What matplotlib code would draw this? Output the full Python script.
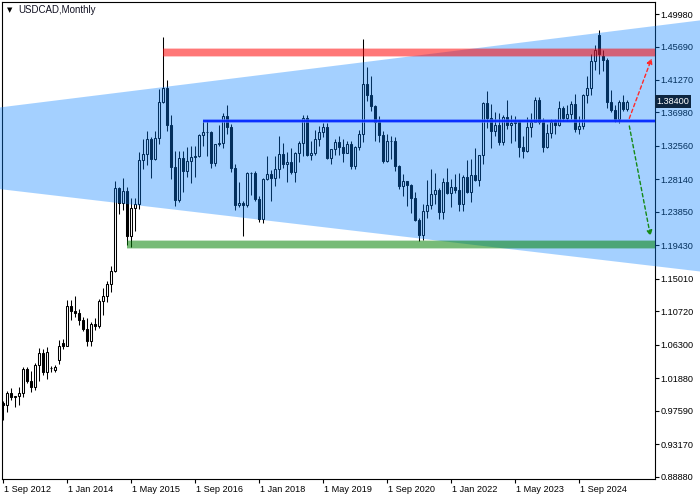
import matplotlib
matplotlib.use("Agg")
import matplotlib.pyplot as plt
import matplotlib.transforms as mtransforms
import numpy as np

# USDCAD monthly candles, Sep 2012 .. Sep 2025 (one bar per month)
opens = [0.9865, 0.9832, 0.9989, 0.9936, 0.9950, 0.9994, 1.0316, 1.0156, 1.0078, 1.0363,
         1.0516, 1.0271, 1.0322, 1.0300, 1.0430, 1.0655, 1.0620, 1.1138, 1.1075, 1.1053,
         1.0963, 1.0841, 1.0675, 1.0907, 1.0874, 1.1203, 1.1272, 1.1434, 1.1600, 1.2700,
         1.2505, 1.2665, 1.2065, 1.2438, 1.2495, 1.3072, 1.3145, 1.3350, 1.3080, 1.3360,
         1.3837, 1.4019, 1.3530, 1.2980, 1.2545, 1.3098, 1.2930, 1.3056, 1.3114, 1.3120,
         1.3407, 1.3435, 1.3438, 1.3030, 1.3280, 1.3300, 1.3657, 1.3507, 1.2968, 1.2470,
         1.2502, 1.2478, 1.2898, 1.2900, 1.2560, 1.2297, 1.2824, 1.2892, 1.2838, 1.2953,
         1.3150, 1.3016, 1.3045, 1.2914, 1.3164, 1.3292, 1.3630, 1.3135, 1.3160, 1.3350,
         1.3440, 1.3510, 1.3092, 1.3210, 1.3305, 1.3245, 1.3165, 1.3280, 1.2985, 1.3237,
         1.3410, 1.4074, 1.3923, 1.3783, 1.3570, 1.3395, 1.3055, 1.3315, 1.3320, 1.2994,
         1.2730, 1.2790, 1.2740, 1.2566, 1.2284, 1.2076, 1.2395, 1.2475, 1.2616, 1.2671,
         1.2388, 1.2774, 1.2640, 1.2717, 1.2670, 1.2496, 1.2850, 1.2648, 1.2873, 1.2806,
         1.3135, 1.3825, 1.3621, 1.3452, 1.3535, 1.3311, 1.3638, 1.3532, 1.3554, 1.3578,
         1.3243, 1.3185, 1.3512, 1.3577, 1.3867, 1.3569, 1.3245, 1.3425, 1.3570, 1.3538,
         1.3755, 1.3625, 1.3677, 1.3810, 1.3485, 1.3526, 1.3928, 1.4015, 1.4380, 1.4720,
         1.4445, 1.4385, 1.3830, 1.3730, 1.3607, 1.3840, 1.3740]
highs = [0.9885, 1.0015, 1.0061, 0.9958, 1.0078, 1.0339, 1.0332, 1.0279, 1.0387, 1.0590,
         1.0575, 1.0607, 1.0347, 1.0360, 1.0690, 1.0710, 1.1224, 1.1224, 1.1279, 1.1100,
         1.0996, 1.0986, 1.0929, 1.0985, 1.1237, 1.1386, 1.1467, 1.1673, 1.2799, 1.2720,
         1.2835, 1.2710, 1.2563, 1.2563, 1.3172, 1.3353, 1.3457, 1.3372, 1.3460, 1.4003,
         1.4690, 1.4133, 1.3663, 1.3194, 1.3190, 1.3187, 1.3242, 1.3258, 1.3249, 1.3410,
         1.3588, 1.3598, 1.3455, 1.3286, 1.3535, 1.3687, 1.3793, 1.3540, 1.3012, 1.2778,
         1.2526, 1.2917, 1.2917, 1.2920, 1.2590, 1.2833, 1.3125, 1.2945, 1.3125, 1.3386,
         1.3291, 1.3171, 1.3226, 1.3172, 1.3325, 1.3665, 1.3664, 1.3318, 1.3467, 1.3522,
         1.3565, 1.3563, 1.3221, 1.3346, 1.3383, 1.3348, 1.3328, 1.3321, 1.3249, 1.3467,
         1.4667, 1.4300, 1.4174, 1.3802, 1.3647, 1.3456, 1.3419, 1.3390, 1.3370, 1.3000,
         1.2880, 1.2799, 1.2750, 1.2650, 1.2300, 1.2487, 1.2807, 1.2949, 1.2896, 1.2700,
         1.2838, 1.2964, 1.2814, 1.2880, 1.2901, 1.2878, 1.3076, 1.3079, 1.3223, 1.3138,
         1.3838, 1.3977, 1.3808, 1.3705, 1.3685, 1.3666, 1.3862, 1.3667, 1.3655, 1.3585,
         1.3387, 1.3640, 1.3694, 1.3899, 1.3898, 1.3621, 1.3541, 1.3606, 1.3614, 1.3846,
         1.3783, 1.3791, 1.3852, 1.3946, 1.3647, 1.3944, 1.4178, 1.4467, 1.4590, 1.4793,
         1.4523, 1.4414, 1.3990, 1.3796, 1.3860, 1.3928, 1.3860]
lows = [0.9633, 0.9739, 0.9901, 0.9809, 0.9840, 0.9945, 1.0122, 1.0010, 1.0034, 1.0157,
        1.0237, 1.0183, 1.0273, 1.0270, 1.0375, 1.0575, 1.0615, 1.0958, 1.0994, 1.0896,
        1.0812, 1.0620, 1.0620, 1.0830, 1.0847, 1.1030, 1.1191, 1.1323, 1.1585, 1.2355,
        1.2405, 1.1942, 1.1920, 1.2130, 1.2425, 1.2950, 1.3007, 1.2833, 1.3072, 1.3282,
        1.3827, 1.3460, 1.2824, 1.2461, 1.2520, 1.2653, 1.2845, 1.2765, 1.2844, 1.3109,
        1.3249, 1.3120, 1.2968, 1.2987, 1.3260, 1.3225, 1.3412, 1.2913, 1.2413, 1.2449,
        1.2062, 1.2447, 1.2604, 1.2533, 1.2249, 1.2245, 1.2803, 1.2527, 1.2726, 1.2834,
        1.2960, 1.2783, 1.2887, 1.2782, 1.3049, 1.3128, 1.3118, 1.3069, 1.3130, 1.3250,
        1.3376, 1.3088, 1.3016, 1.3132, 1.3134, 1.3042, 1.3157, 1.2951, 1.2952, 1.3202,
        1.3314, 1.3851, 1.3714, 1.3316, 1.3311, 1.3037, 1.3048, 1.3082, 1.2928, 1.2688,
        1.2589, 1.2468, 1.2365, 1.2266, 1.2007, 1.2010, 1.2303, 1.2422, 1.2493, 1.2287,
        1.2288, 1.2625, 1.2451, 1.2635, 1.2402, 1.2403, 1.2632, 1.2516, 1.2789, 1.2727,
        1.3020, 1.3497, 1.3226, 1.3385, 1.3275, 1.3273, 1.3475, 1.3301, 1.3315, 1.3116,
        1.3093, 1.3171, 1.3379, 1.3570, 1.3552, 1.3177, 1.3229, 1.3359, 1.3420, 1.3522,
        1.3590, 1.3589, 1.3617, 1.3437, 1.3420, 1.3475, 1.3822, 1.3925, 1.4260, 1.4205,
        1.4250, 1.3756, 1.3700, 1.3577, 1.3560, 1.3720, 1.3717]
closes = [0.9832, 0.9989, 0.9936, 0.9950, 0.9994, 1.0316, 1.0156, 1.0078, 1.0363, 1.0516,
          1.0271, 1.0541, 1.0318, 1.0340, 1.0614, 1.0615, 1.1138, 1.1075, 1.1053, 1.0963,
          1.0841, 1.0675, 1.0907, 1.0874, 1.1203, 1.1272, 1.1434, 1.1600, 1.2700, 1.2505,
          1.2665, 1.2065, 1.2438, 1.2495, 1.3072, 1.3145, 1.3350, 1.3080, 1.3360, 1.3837,
          1.4019, 1.3530, 1.2980, 1.2545, 1.3098, 1.2930, 1.3056, 1.3114, 1.3120, 1.3407,
          1.3435, 1.3438, 1.3030, 1.3280, 1.3300, 1.3657, 1.3507, 1.2968, 1.2470, 1.2502,
          1.2478, 1.2898, 1.2900, 1.2560, 1.2297, 1.2824, 1.2892, 1.2838, 1.2953, 1.3150,
          1.3016, 1.3045, 1.2914, 1.3164, 1.3292, 1.3630, 1.3135, 1.3160, 1.3350, 1.3440,
          1.3510, 1.3092, 1.3210, 1.3305, 1.3245, 1.3165, 1.3280, 1.2985, 1.3237, 1.3410,
          1.4074, 1.3923, 1.3783, 1.3570, 1.3395, 1.3055, 1.3315, 1.3320, 1.2994, 1.2730,
          1.2790, 1.2740, 1.2566, 1.2284, 1.2076, 1.2395, 1.2475, 1.2616, 1.2671, 1.2388,
          1.2774, 1.2640, 1.2717, 1.2670, 1.2496, 1.2850, 1.2648, 1.2873, 1.2806, 1.3135,
          1.3825, 1.3621, 1.3452, 1.3535, 1.3311, 1.3638, 1.3532, 1.3554, 1.3578, 1.3243,
          1.3185, 1.3512, 1.3577, 1.3867, 1.3569, 1.3245, 1.3425, 1.3570, 1.3538, 1.3755,
          1.3625, 1.3677, 1.3810, 1.3485, 1.3526, 1.3928, 1.4015, 1.4380, 1.4525, 1.4465,
          1.4385, 1.3830, 1.3730, 1.3607, 1.3840, 1.3740, 1.3840]

date_labels = ["1 Sep 2012", "1 Jan 2014", "1 May 2015", "1 Sep 2016", "1 Jan 2018",
               "1 May 2019", "1 Sep 2020", "1 Jan 2022", "1 May 2023", "1 Sep 2024"]
price_ticks = [1.49980, 1.45690, 1.41270, 1.36980, 1.32560, 1.28140, 1.23850, 1.19430,
               1.15010, 1.10720, 1.06300, 1.01880, 0.97590, 0.93170, 0.88880]
last_price = 1.38400

# chart objects (bar index, price)
tri_upper = [(-0.75, 1.3765), (175, 1.4919)]
tri_lower = [(-0.75, 1.2686), (175, 1.1594)]
resist_start, resist_level = 40, 1.4489
support_start, support_level = 31, 1.1955
mid_start, mid_level = 50, 1.3582
up_arrow = [(156.6, 1.3620), (162.2, 1.4413)]
down_arrow = [(156.6, 1.3520), (161.9, 1.2065)]

n = len(opens)
x = np.arange(n)
o = np.array(opens); h = np.array(highs); l = np.array(lows); c = np.array(closes)

fig = plt.figure(figsize=(7, 5), dpi=100)
ax = fig.add_axes([2 / 700, 21 / 500, 652.5 / 700, 477 / 500])
ax.set_xlim(-0.25, 162.9)
ax.set_ylim(0.8858, 1.5157)

# candles
ax.vlines(x, l, h, color="black", lw=0.75, zorder=2)
bull = c >= o
body = np.maximum(np.abs(c - o), 0.0006)
bottom = np.minimum(o, c)
ax.bar(x[bull], body[bull], bottom=bottom[bull], width=0.5, facecolor="white",
       edgecolor="black", lw=0.75, zorder=2.1)
ax.bar(x[~bull], body[~bull], bottom=bottom[~bull], width=0.5, facecolor="black",
       edgecolor="black", lw=0.75, zorder=2.1)

# expanding triangle, drawn over everything like the terminal does
tri = [tri_upper[0], tri_upper[1], tri_lower[1], tri_lower[0]]
ax.add_patch(plt.Polygon(tri, closed=True, facecolor=(10/255, 130/255, 1.0), alpha=0.37,
                         edgecolor="none", clip_on=False, zorder=3))

# horizontal zones
def zone(x0, level, color):
    ax.fill_between([x0, 162.9], level - 0.0056, level + 0.0056, color=color,
                    alpha=0.22, lw=0, zorder=4)
    ax.fill_between([x0, 162.9], level - 0.0043, level + 0.0043, color=color,
                    alpha=0.4, lw=0, zorder=4)

zone(resist_start, resist_level, (1.0, 0.0, 0.0))
zone(support_start, support_level, (0.0, 0.5, 0.0))

ax.plot([mid_start, 162.9], [mid_level, mid_level], color="#4f74ff", lw=2.8,
        alpha=0.7, solid_capstyle="butt", zorder=5)
ax.plot([mid_start, 162.9], [mid_level, mid_level], color="#0026ff", lw=1.3,
        solid_capstyle="butt", zorder=5)

# projection arrows
for (p0, p1), col in [(up_arrow, "#ff2a2a"), (down_arrow, "#158a15")]:
    ax.annotate("", xy=p1, xytext=p0,
                arrowprops=dict(arrowstyle="-|>", color=col, lw=1.0,
                                linestyle=(0, (2.5, 2)), mutation_scale=8,
                                shrinkA=0, shrinkB=0),
                zorder=6, annotation_clip=False)

# axes styling
for s in ax.spines.values():
    s.set_linewidth(0.8)
    s.set_color("black")
ax.yaxis.tick_right()
ax.set_yticks(price_ticks)
ax.set_yticklabels([f"{p:.5f}" for p in price_ticks], fontsize=6.6,
                   fontfamily="Liberation Sans")
ax.tick_params(axis="y", direction="out", length=3, width=0.8, pad=1.5)
ax.set_xticks(np.arange(len(date_labels)) * 16)
ax.set_xticklabels(date_labels, fontsize=6.6, fontfamily="Liberation Sans", ha="left")
ax.tick_params(axis="x", direction="out", length=3, width=0.8, pad=1.5)
for lab in ax.get_xticklabels():
    lab.set_transform(lab.get_transform() + mtransforms.ScaledTranslation(1 / 100, 0, fig.dpi_scale_trans))

# last price marker
trans = mtransforms.blended_transform_factory(ax.transAxes, ax.transData)
ax.text(1.003, last_price, f"{last_price:.5f}", transform=trans, fontsize=6.6,
        fontfamily="Liberation Sans", color="white", va="center", ha="left",
        bbox=dict(boxstyle="square,pad=0.2", fc="#0d2540", ec="none"), zorder=8,
        clip_on=False)

# title
fig.text(7 / 700, 1 - 10 / 500, "\u25bc", fontsize=5, va="center", ha="left")
fig.text(18 / 700, 1 - 10 / 500, "USDCAD,Monthly", fontsize=7,
         fontfamily="Liberation Sans", va="center", ha="left", color="#111122")

fig.savefig("out.png", dpi=100)
